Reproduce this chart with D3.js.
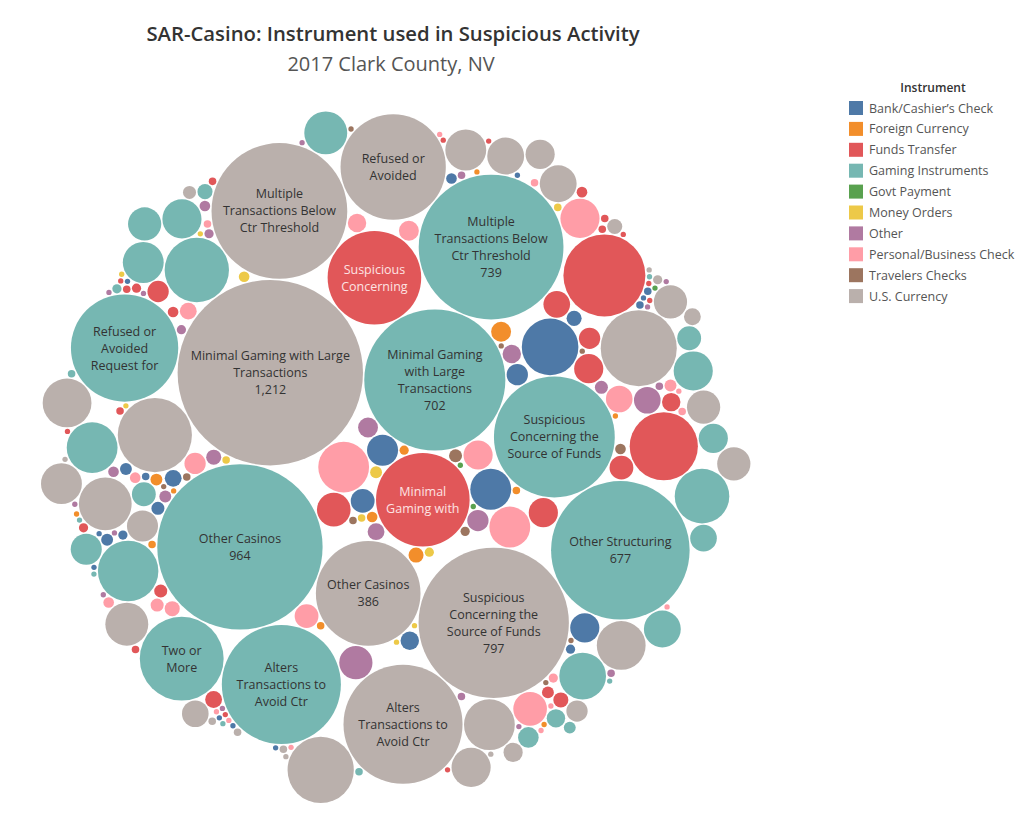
<!DOCTYPE html>
<html>
<head>
<meta charset="utf-8">
<script src="https://cdn.jsdelivr.net/npm/d3@7"></script>
<style>
  body { margin: 0; background: #fff; font-family: "Open Sans", sans-serif; }
  svg { display: block; }
</style>
</head>
<body>
<svg id="chart" width="1028" height="827"></svg>
<script>
// legend order / colours
const instruments = [
    "Bank/Cashier\u2019s Check", "Foreign Currency", "Funds Transfer", "Gaming Instruments",
    "Govt Payment", "Money Orders", "Other", "Personal/Business Check",
    "Travelers Checks", "U.S. Currency"
];
const colors = [
    "#4e79a7", "#f28e2b", "#e15759", "#76b7b2", "#59a14f",
    "#edc948", "#b07aa1", "#ff9da7", "#9c755f", "#bab0ac"
];

const activities = [
    "Minimal Gaming with Large Transactions",
    "Other Casinos",
    "Suspicious Concerning the Source of Funds",
    "Multiple Transactions Below Ctr Threshold",
    "Other Structuring",
    "Alters Transactions to Avoid Ctr",
    "Refused or Avoided Request for Documentation",
    "Two or More Individuals Working Together",
    "Suspicious Intra-Casino Funds Transfers",
    "Suspicious EFT/Wire Transfers",
    "Inquiry About End of Business Day",
    "Transaction Out of Pattern for Customer(s)",
    "Unknown Source of Chips",
    "Chip Walking",
    "Suspicious Use of Counter Checks or Markers",
    "Other Gaming Activities",
    "Exchange Small Bills for Large Bills",
    "Suspicious Use of Noncash Monetary Instruments",
    "Suspicious Use of Third-Party Transactors",
    "Provided Questionable or False Documentation",
    "Suspicious Inquiry Regarding BSA Reporting",
    "Alters Transaction to Avoid BSA Recordkeeping",
    "Other Money Laundering",
    "Other Suspicious Activities",
    "Check Fraud",
    "Identity Theft",
    "Counterfeit Instruments",
    "Suspicious Use of Multiple Accounts",
    "Single Individual with Multiple Identities",
    "Elder Financial Exploitation",
    "Funnel Account",
    "Suspicious Designation of Beneficiaries",
    "Other Fraud",
    "Wire Fraud",
    "Account Takeover",
    "Misuse of Position or Self-Dealing",
    "Suspected Public/Private Corruption",
    "Unlicensed or Unregistered MSB"
];

// one row per activity, columns follow `instruments`
const counts = [
    [ 34,  3, 309, 702, 0, 5, 14, 91, 6, 1212],
    [ 20,  4,  40, 964, 1, 2, 10, 30, 2,  386],
    [ 59,  8, 309, 515, 1, 3, 16, 59, 3,  797],
    [ 16,  2,  30, 739, 0, 2, 12, 20, 1,  650],
    [113, 14,  25, 677, 0, 1,  8, 16, 0,  194],
    [ 12,  2,  30, 500, 0, 1, 39, 14, 2,  500],
    [ 10,  1,  20, 406, 0, 4,  6, 12, 1,  391],
    [  8,  0,  16, 248, 0, 0,  5, 25, 1,  204],
    [ 30,  5, 237, 146, 0, 0, 25, 54, 4,  155],
    [  6,  1, 164,  20, 0, 0,  3, 10, 0,   34],
    [  2,  0,   4, 105, 0, 0,  2,  4, 0,   98],
    [  5,  2,  16, 129, 0, 1,  4,  8, 1,   91],
    [  4,  0,   6,  91, 0, 0,  3,  6, 0,   84],
    [  3,  0,   2,  77, 0, 0,  2,  3, 0,   84],
    [  3,  0,  12,  65, 0, 0,  1, 40, 0,   65],
    [  2,  0,  10,  59, 0, 0,  2,  5, 1,   59],
    [  0,  0,   5,  54, 0, 1,  1,  2, 0,   59],
    [  5,  1,   8,  54, 0, 2,  4,  2, 0,   54],
    [  1,  0,   3,  48, 0, 0,  1,  1, 0,   48],
    [  1,  0,   2,  39, 0, 0,  0,  1, 0,   48],
    [  0,  0,   2,  34, 0, 0,  1,  0, 0,   39],
    [  0,  0,   1,  30, 0, 0,  0,  0, 0,   39],
    [  2,  0,   4,  25, 0, 0,  1,  2, 0,   39],
    [  1,  0,   3,  20, 1, 0,  2,  1, 0,   30],
    [  1,  0,   1,   8, 0, 0,  0,  4, 0,   25],
    [  0,  0,   1,  12, 0, 0,  0,  0, 0,   16],
    [  0,  0,   0,   5, 0, 0,  0,  0, 0,   10],
    [  0,  0,   1,  15, 0, 0,  0,  0, 0,   13],
    [  0,  0,   0,   3, 0, 0,  0,  0, 0,    8],
    [  0,  0,   2,   2, 0, 0,  0,  1, 0,    6],
    [  1,  0,   2,   1, 0, 0,  1,  1, 0,    3],
    [  1,  1,   1,   2, 0, 0,  0,  0, 0,    2],
    [  0,  0,   1,   1, 0, 1,  1,  1, 1,    2],
    [  1,  0,   2,   0, 0, 0,  0,  1, 0,    1],
    [  0,  0,   1,   1, 0, 0,  1,  0, 0,    1],
    [  1,  0,   0,   1, 0, 0,  1,  1, 0,    2],
    [  0,  1,   1,   0, 0, 0,  0,  0, 0,    1],
    [  0,  0,   1,   1, 0, 0,  1,  0, 0,    1]
];

// text shown inside the bubbles that are big enough: [activity, instrument, lines, show value]
const bubbleLabels = [
    [0, 9, ["Minimal Gaming with Large", "Transactions"], true],
    [0, 3, ["Minimal Gaming", "with Large", "Transactions"], true],
    [0, 2, ["Minimal", "Gaming with"], false],
    [1, 3, ["Other Casinos"], true],
    [1, 9, ["Other Casinos"], true],
    [2, 9, ["Suspicious", "Concerning the", "Source of Funds"], true],
    [2, 3, ["Suspicious", "Concerning the", "Source of Funds"], false],
    [2, 2, ["Suspicious", "Concerning"], false],
    [3, 3, ["Multiple", "Transactions Below", "Ctr Threshold"], true],
    [3, 9, ["Multiple", "Transactions Below", "Ctr Threshold"], false],
    [4, 3, ["Other Structuring"], true],
    [5, 3, ["Alters", "Transactions to", "Avoid Ctr"], false],
    [5, 9, ["Alters", "Transactions to", "Avoid Ctr"], false],
    [6, 3, ["Refused or", "Avoided", "Request for"], false],
    [6, 9, ["Refused or", "Avoided"], false],
    [7, 3, ["Two or", "More"], false]
];

const bubbles = [];
counts.forEach((row, a) => {
    row.forEach((v, i) => {
        if (v > 0) bubbles.push({ activity: activities[a], a: a, i: i, value: v });
    });
});

const labelFor = new Map(bubbleLabels.map(d => [d[0] + "|" + d[1], d]));
const fmt = d3.format(",");

const svg = d3.select("#chart");

// titles
svg.append("text")
    .attr("x", 393).attr("y", 41)
    .attr("text-anchor", "middle")
    .style("font-family", "Open Sans, sans-serif")
    .style("font-size", "20.3px")
    .style("font-weight", 600)
    .style("fill", "#333")
    .text("SAR-Casino: Instrument used in Suspicious Activity");

svg.append("text")
    .attr("x", 391).attr("y", 71)
    .attr("text-anchor", "middle")
    .style("font-family", "Open Sans, sans-serif")
    .style("font-size", "20px")
    .style("fill", "#555")
    .text("2017 Clark County, NV");

// packed bubbles
const diameter = 716;
const root = d3.hierarchy({ children: bubbles }).sum(d => d.value || 0);
d3.pack().size([diameter, diameter]).padding(1.5)(root);

const plot = svg.append("g")
    .attr("transform", `translate(${394 - diameter / 2},${455 - diameter / 2})`);

const node = plot.selectAll("g.bubble")
    .data(root.leaves())
    .enter()
    .append("g")
    .attr("class", "bubble")
    .attr("transform", d => `translate(${d.x},${d.y})`);

node.append("circle")
    .attr("r", d => d.r)
    .style("fill", d => colors[d.data.i]);

node.each(function(d) {
    const lab = labelFor.get(d.data.a + "|" + d.data.i);
    if (!lab) return;
    const lines = lab[2].slice();
    if (lab[3]) lines.push(fmt(d.data.value));
    const lh = 17;
    const t = d3.select(this).append("text")
        .attr("text-anchor", "middle")
        .style("font-family", "Open Sans, sans-serif")
        .style("font-size", "12.5px")
        .style("fill", d.data.i === 2 ? "#fde3e3" : "#333");
    lines.forEach((s, k) => {
        t.append("tspan")
            .attr("x", 0)
            .attr("y", (k - (lines.length - 1) / 2) * lh + 4.5)
            .text(s);
    });
});

// legend
const legend = svg.append("g").attr("transform", "translate(849,0)");
legend.append("text")
    .attr("x", 84).attr("y", 92)
    .attr("text-anchor", "middle")
    .style("font-family", "Open Sans, sans-serif")
    .style("font-size", "12px")
    .style("font-weight", 600)
    .style("fill", "#333")
    .text("Instrument");

const item = legend.selectAll("g.item")
    .data(instruments)
    .enter()
    .append("g")
    .attr("class", "item")
    .attr("transform", (d, k) => `translate(0,${101 + k * 20.9})`);

item.append("rect")
    .attr("width", 14).attr("height", 14)
    .style("fill", (d, k) => colors[k]);

item.append("text")
    .attr("x", 20).attr("y", 11.5)
    .style("font-family", "Open Sans, sans-serif")
    .style("font-size", "12.5px")
    .style("fill", "#555")
    .text(d => d);
</script>
</body>
</html>
